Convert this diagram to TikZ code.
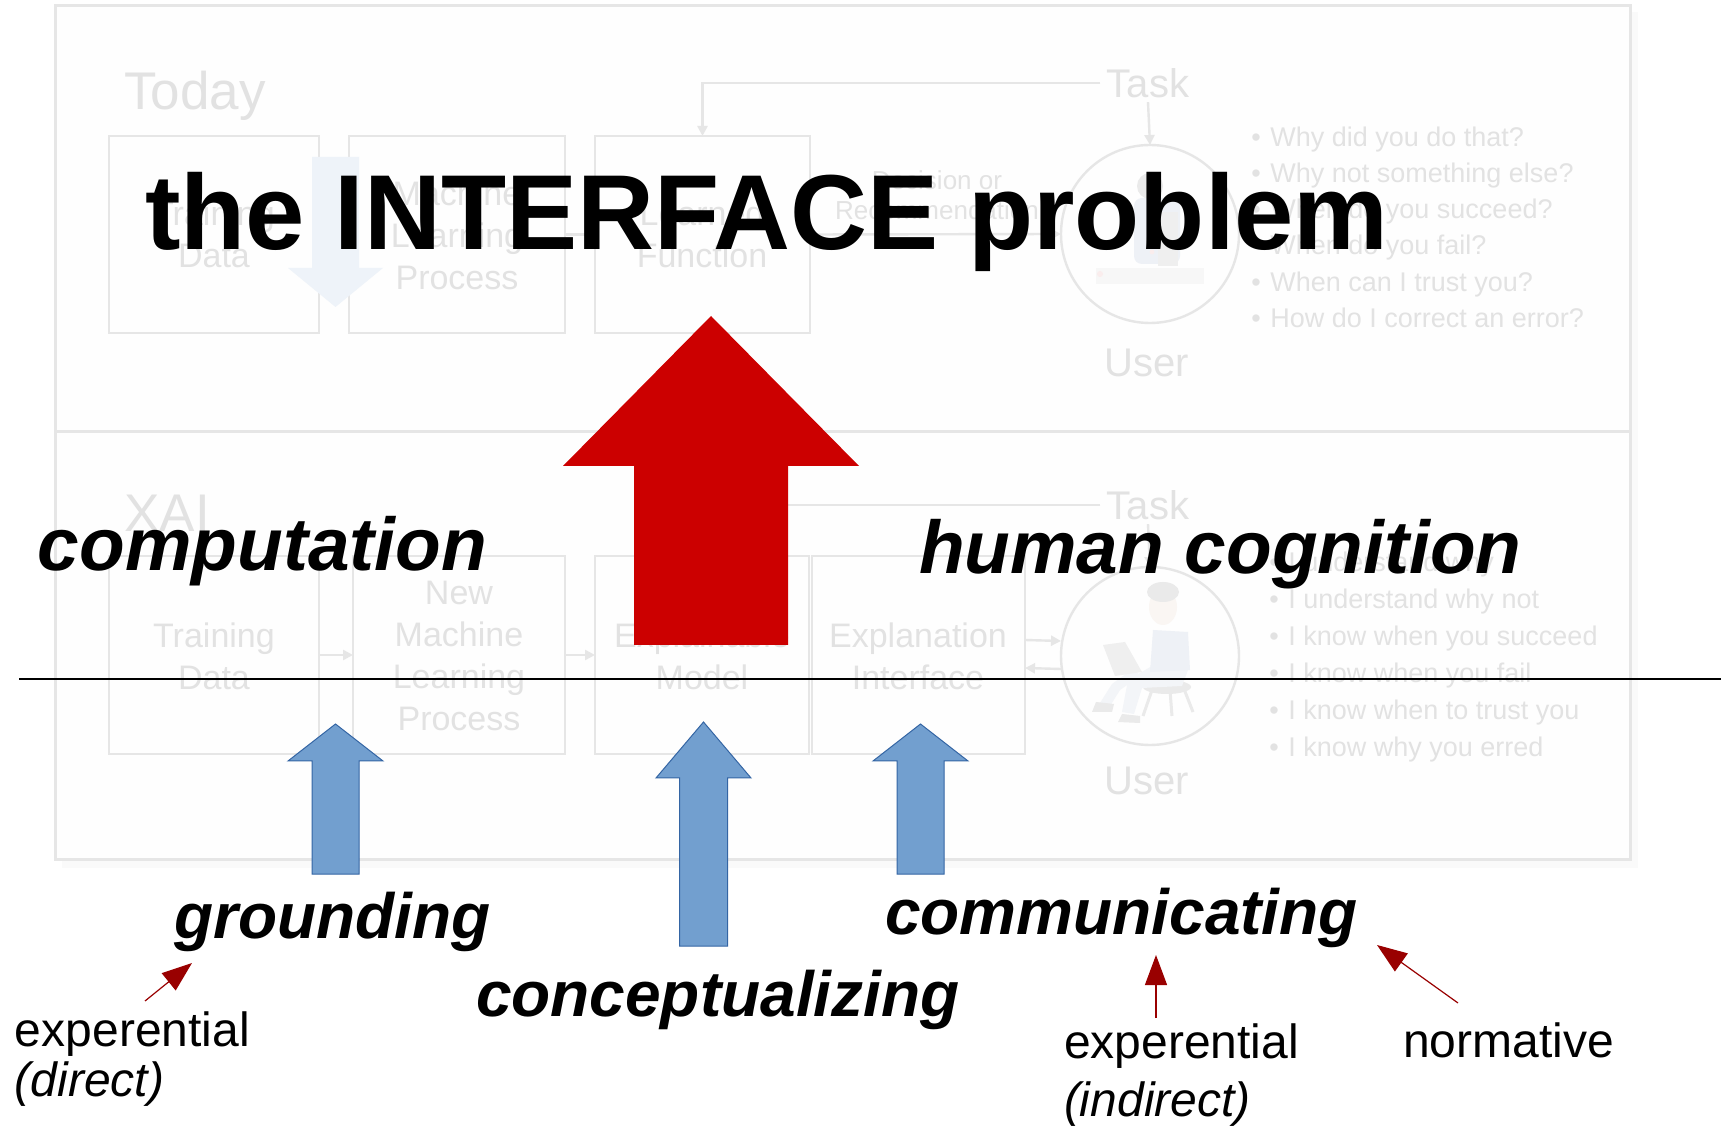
\documentclass[tikz,border=0pt]{standalone}
\usepackage{fontspec}
\setmainfont{Liberation Sans}
\usetikzlibrary{arrows.meta}

% faded background diagram
\definecolor{faintline}{HTML}{E6E6E6}
\definecolor{fainttext}{HTML}{E2E2E2}
\definecolor{shadowgray}{HTML}{FAFAFA}
\definecolor{panelbg}{HTML}{FEFEFE}
\definecolor{paleblue}{HTML}{EEF3F9}
\definecolor{fhair}{HTML}{EAEAEA}
\definecolor{fskin}{HTML}{FAF6F3}
\definecolor{fshirt}{HTML}{EEF1F6}
\definecolor{fjeans}{HTML}{F3F5F8}
\definecolor{flaptop}{HTML}{EFEFEF}
\definecolor{fdesk}{HTML}{F7F7F7}
\definecolor{fred}{HTML}{FAEDED}
% foreground
\definecolor{bigred}{HTML}{CC0000}
\definecolor{tipred}{HTML}{990000}
\definecolor{blockfill}{HTML}{729FCF}
\definecolor{blockedge}{HTML}{3465A4}

\begin{document}
\begin{tikzpicture}[x=0.5pt,y=-0.5pt,
  lbl/.style={inner sep=0pt, outer sep=0pt, anchor=base west},
  fbox/.style={draw=faintline, line width=1.2pt, inner sep=0pt, outer sep=0pt},
  fcirc/.style={draw=faintline, line width=1.2pt, circle, inner sep=0pt, outer sep=0pt, minimum size=89pt},
  ftxt/.style={text=fainttext, inner sep=0pt, anchor=base, font=\fontsize{17}{20}\selectfont},
  fbig/.style={text=fainttext, inner sep=0pt, anchor=base west, font=\fontsize{26.5}{30}\selectfont},
  fmid/.style={text=fainttext, inner xsep=3pt, inner ysep=2pt, font=\fontsize{20}{23}\selectfont},
  fbullet/.style={text=fainttext, inner sep=0pt, anchor=base west, font=\fontsize{13.5}{16}\selectfont},
  farrow/.style={draw=faintline, line width=1.2pt, -{Triangle[length=5pt,width=5pt]}},
  blockarrow/.style={fill=blockfill, draw=blockedge, line width=0.5pt},
  tiparrow/.style={draw=tipred, line width=0.6pt, -{Triangle[length=15pt,width=11pt]}},
  titlefont/.style={font=\fontsize{53.3}{60}\selectfont\bfseries},
  headfont/.style={font=\fontsize{37.4}{42}\selectfont\bfseries\itshape},
  wordfont/.style={font=\fontsize{32}{37}\selectfont\bfseries\itshape},
  notefont/.style={font=\fontsize{24}{27}\selectfont}]

\useasboundingbox (0,0) rectangle (1721,1128);
\fill[white] (0,0) rectangle (1721,1128);

% ---------- panel with its soft shadow ----------
\fill[shadowgray] (62,12) rectangle (1638,868);
\node[fbox, fill=panelbg, line width=1.5pt, minimum width=787.5pt, minimum height=426.5pt, anchor=north west] (panel) at (55,6) {};
\draw[faintline, line width=1.5pt] (55,432) -- (1630,432);

% ---------- Today ----------
\node[fbig] (today) at (124,110) {Today};

\node[fbox, minimum width=105pt, minimum height=98.5pt] (tb1) at (214,234.5) {};
\node[fbox, minimum width=108pt, minimum height=98.5pt] (tb2) at (457,234.5) {};
\node[fbox, minimum width=107.5pt, minimum height=98.5pt] (tb3) at (702.5,234.5) {};

\node[ftxt] (tb1a) at (214,226) {Training};
\node[ftxt] (tb1b) at (214,268) {Data};
\node[ftxt] (tb2a) at (457,206) {Machine};
\node[ftxt] (tb2b) at (457,248) {Learning};
\node[ftxt] (tb2c) at (457,290) {Process};
\node[ftxt] (tb3a) at (702,226) {Learned};
\node[ftxt] (tb3b) at (702,268) {Function};

\node[fcirc] (ut) at (1150,234) {};
\node[fmid] (ttask) at (1148,83) {Task};
\node[ftxt, font=\fontsize{20}{23}\selectfont] (tuser) at (1147,377) {User};

\node[ftxt, font=\fontsize{13}{15}\selectfont] (tdec1) at (937,190) {Decision or};
\node[ftxt, font=\fontsize{13}{15}\selectfont] (tdec2) at (937,220) {Recommendation};

\draw[farrow] (tb1.east) -- (tb2.west);
\draw[farrow] (tb2.east) -- (tb3.west);
\draw[farrow] (tb3.east) -- (ut.west);
\draw[farrow] (ttask.west) -| (tb3.north);
\draw[farrow] (ttask.south) -- (ut.north);

% frustrated user at a desk
\fill[fdesk] (1096,268) rectangle (1204,284);
\fill[fshirt, rounded corners=4pt] (1134,198) rectangle (1180,264);
\fill[flaptop] (1158,212) rectangle (1178,266);
\fill[fhair] (1150,186) circle (6.5pt);
\fill[fred] (1100,274) circle (1.5pt);
\fill[fred] (1152,252) circle (1.2pt);

\node[fbullet] (tq1) at (1251,147) {\makebox[9.5pt][l]{•}Why did you do that?};
\node[fbullet] (tq2) at (1251,183) {\makebox[9.5pt][l]{•}Why not something else?};
\node[fbullet] (tq3) at (1251,219) {\makebox[9.5pt][l]{•}When do you succeed?};
\node[fbullet] (tq4) at (1251,255) {\makebox[9.5pt][l]{•}When do you fail?};
\node[fbullet] (tq5) at (1251,292) {\makebox[9.5pt][l]{•}When can I trust you?};
\node[fbullet] (tq6) at (1251,328) {\makebox[9.5pt][l]{•}How do I correct an error?};

% pale downward block arrow
\fill[paleblue] (312,157) -- (359,157) -- (359,268) -- (383,268) -- (335.5,307) -- (288,268) -- (312,268) -- cycle;

% ---------- XAI ----------
\node[fbig] (xai) at (124,532) {XAI};

\node[fbox, minimum width=105pt, minimum height=99pt] (xb1) at (214,655) {};
\node[fbox, minimum width=106pt, minimum height=99pt] (xb2) at (459,655) {};
\node[fbox, minimum width=107pt, minimum height=99pt] (xb3) at (702,655) {};
\node[fbox, minimum width=106.5pt, minimum height=99pt] (xb4) at (918.5,655) {};

\node[ftxt] (xb1a) at (214,648) {Training};
\node[ftxt] (xb1b) at (214,690) {Data};
\node[ftxt] (xb2a) at (459,605) {New};
\node[ftxt] (xb2b) at (459,647) {Machine};
\node[ftxt] (xb2c) at (459,689) {Learning};
\node[ftxt] (xb2d) at (459,731) {Process};
\node[ftxt] (xb3a) at (702,648) {Explainable};
\node[ftxt] (xb3b) at (702,690) {Model};
\node[ftxt] (xb4a) at (918,648) {Explanation};
\node[ftxt] (xb4b) at (918,690) {Interface};

\node[fcirc] (ux) at (1150,656) {};
\node[fmid] (xtask) at (1148,505) {Task};
\node[ftxt, font=\fontsize{20}{23}\selectfont] (xuser) at (1147,795) {User};

\draw[farrow] (xb1.east) -- (xb2.west);
\draw[farrow] (xb2.east) -- (xb3.west);
\draw[farrow] (xtask.west) -| (xb3.north);
\draw[farrow] (xtask.south) -- (ux.north);
\draw[farrow] ([yshift=7.5pt]xb4.east) -- ([yshift=7.5pt]ux.west);
\draw[farrow] ([yshift=-6.5pt]ux.west) -- ([yshift=-6.5pt]xb4.east);

% user on a stool with a laptop
\draw[fhair, line width=1.5pt] (1152,690) -- (1143,716);
\draw[fhair, line width=1.5pt] (1170,690) -- (1172,716);
\draw[fhair, line width=1.5pt] (1184,689) -- (1193,712);
\fill[fhair] (1167,687) ellipse (12pt and 3.5pt);
\fill[fjeans] (1152,666) -- (1188,670) -- (1182,686) -- (1142,688) -- (1134,714) -- (1122,712) -- (1128,680) -- cycle;
\fill[fjeans] (1140,676) -- (1120,690) -- (1110,706) -- (1100,703) -- (1112,684) -- (1134,668) -- cycle;
\fill[fhair] (1096,702) -- (1114,704) -- (1112,712) -- (1092,712) -- cycle;
\fill[fhair] (1122,714) -- (1140,716) -- (1140,723) -- (1118,722) -- cycle;
\fill[fshirt] (1153,630) -- (1188,632) -- (1190,670) -- (1150,672) -- cycle;
\fill[flaptop] (1103,645) -- (1125,642) -- (1142,672) -- (1115,676) -- cycle;
\fill[fskin] (1163,607) ellipse (7pt and 9pt);
\fill[fhair] (1163,592) ellipse (8pt and 5pt);

\node[fbullet] (xq1) at (1269,572) {\makebox[9.5pt][l]{•}I understand why};
\node[fbullet] (xq2) at (1269,609) {\makebox[9.5pt][l]{•}I understand why not};
\node[fbullet] (xq3) at (1269,646) {\makebox[9.5pt][l]{•}I know when you succeed};
\node[fbullet] (xq4) at (1269,683) {\makebox[9.5pt][l]{•}I know when you fail};
\node[fbullet] (xq5) at (1269,720) {\makebox[9.5pt][l]{•}I know when to trust you};
\node[fbullet] (xq6) at (1269,757) {\makebox[9.5pt][l]{•}I know why you erred};

% ---------- foreground ----------
% big red arrow
\fill[bigred] (634,645) -- (634,466) -- (563,466) -- (711,316) -- (859,466) -- (788,466) -- (788,645) -- cycle;

\node[lbl, titlefont] (title) at (145,250) {the INTERFACE problem};
\node[lbl, headfont] (comp) at (38,571) {computation};
\node[lbl, headfont] (cogn) at (919,574) {human cognition};

% dividing rule
\coordinate (ruleL) at (19,679);
\coordinate (ruleR) at (1721,679);
\draw[black, line width=0.7pt] (ruleL) -- (ruleR);

% blue block arrows
\path[blockarrow] (312,874) -- (312,761) -- (288,761) -- (335.5,724) -- (383,761) -- (359,761) -- (359,874) -- cycle;
\path[blockarrow] (679.5,946) -- (679.5,778) -- (656,778) -- (703.5,722) -- (751,778) -- (727.5,778) -- (727.5,946) -- cycle;
\path[blockarrow] (897,874) -- (897,761) -- (873,761) -- (920.5,724) -- (968,761) -- (944,761) -- (944,874) -- cycle;

\node[lbl, wordfont] (ground) at (174,938) {grounding};
\node[lbl, wordfont] (concept) at (476,1016) {conceptualizing};
\node[lbl, wordfont] (commun) at (885,934) {communicating};

\node[lbl, notefont] (exp1) at (15,1046) {experential};
\node[lbl, notefont] (direct) at (15,1096) {\itshape (direct)};
\node[lbl, notefont] (exp2) at (1064,1058) {experential};
\node[lbl, notefont] (indirect) at (1064,1116) {\itshape (indirect)};
\node[lbl, notefont] (norm) at (1403,1057) {normative};

% small pointers
\coordinate (p1tail) at (145,1001);
\coordinate (p1tip) at (192,963);
\coordinate (p2tail) at (1156,1018);
\coordinate (p2tip) at (1156,955);
\coordinate (p3tail) at (1458,1003);
\coordinate (p3tip) at (1377,945);
\draw[tiparrow] (p1tail) -- (p1tip);
\draw[tiparrow] (p2tail) -- (p2tip);
\draw[tiparrow] (p3tail) -- (p3tip);

\end{tikzpicture}
\end{document}
